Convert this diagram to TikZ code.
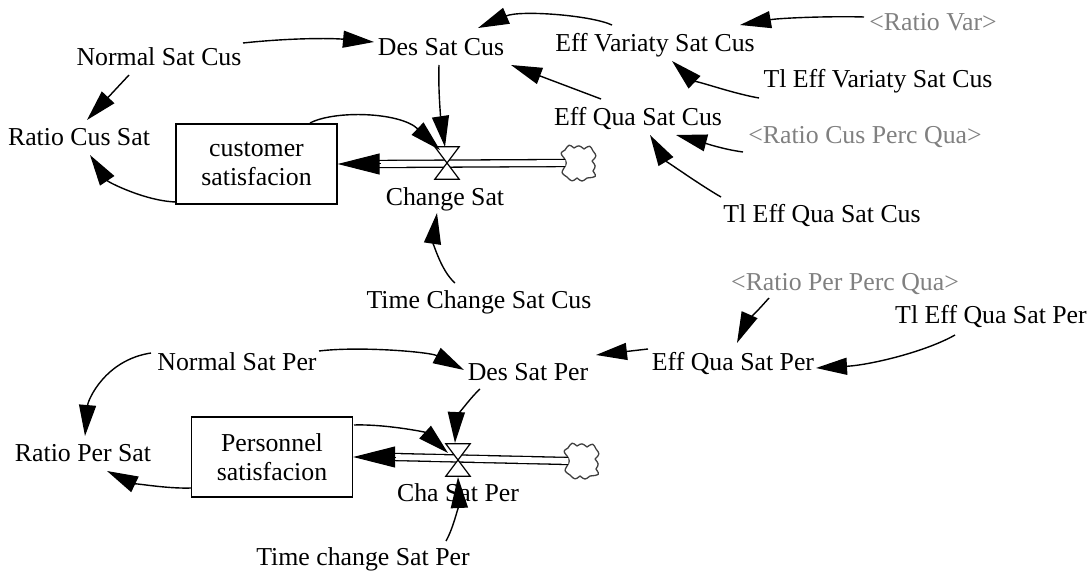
\documentclass[tikz,border=0pt]{standalone}
\usepackage{fontspec}
\setmainfont{Liberation Serif}
\usetikzlibrary{arrows.meta}
\definecolor{shadowgray}{RGB}{128,128,128}
\begin{document}
\begin{tikzpicture}[x=1pt,y=-1pt,
  lbl/.style={inner sep=0pt, text height=17pt, text depth=0pt, font=\fontsize{25.8pt}{28pt}\selectfont},
  shadowlbl/.style={lbl, text=shadowgray},
  stock/.style={draw, line width=1.4pt, minimum width=161pt, minimum height=80pt, inner sep=0pt, align=center, font=\fontsize{25.8pt}{28.5pt}\selectfont},
  conn/.style={line width=1.4pt, -{Triangle[length=31pt,width=17pt]}},
  pipe/.style={double distance=5.8pt, line width=1.3pt},
  flowhead/.style={line width=1pt, -{Triangle[length=42pt,width=21pt]}},
  valvept/.style={minimum width=24pt, minimum height=32pt, inner sep=0pt},
  valvetri/.style={draw, fill=white, line width=1.2pt, line join=miter},
  cloudsrc/.style={minimum width=27pt, minimum height=30pt, inner sep=0pt},
  cloudpic/.pic={
    \draw[draw=black!75, line width=1.3pt, fill=white, line join=round]
      (-15,-5) .. controls (-19,-10) .. (-14,-13)
      .. controls (-10,-19) .. (-5,-15)
      .. controls (0,-18) .. (5,-14)
      .. controls (11,-18) .. (14,-12)
      .. controls (18,-7) .. (13,-2)
      .. controls (17,3) .. (14,8)
      .. controls (18,14) .. (8,15)
      .. controls (3,19) .. (-2,15)
      .. controls (-7,19) .. (-12,14)
      .. controls (-18,10) .. (-15,5)
      .. controls (-12,0) .. (-15,-5) -- cycle;
  }]
\useasboundingbox (0,0) rectangle (1092,577);

% ---------- customer part ----------
\node[lbl] (nsc) at (159,57) {Normal Sat Cus};
\node[lbl] (dsc) at (441,47) {Des Sat Cus};
\node[lbl] (evs) at (655,43) {Eff Variaty Sat Cus};
\node[shadowlbl] (rv) at (933,22) {<Ratio Var>};
\node[lbl] (tev) at (878,79) {Tl Eff Variaty Sat Cus};
\node[lbl] (eqs) at (638,117) {Eff Qua Sat Cus};
\node[shadowlbl] (rcpq) at (865,135) {<Ratio Cus Perc Qua>};
\node[lbl] (teq) at (822,214) {Tl Eff Qua Sat Cus};
\node[lbl] (rcs) at (79,137) {Ratio Cus Sat};
\node[stock] (cs) at (256.5,164) {customer\\satisfacion};
\node[valvept] (v1) at (447,163) {};
\node[cloudsrc] (cl1) at (579,163) {};
\node[lbl] (chs) at (445,197) {Change Sat};
\node[lbl] (tcs) at (479,300) {Time Change Sat Cus};

% ---------- personnel part ----------
\node[shadowlbl] (rppq) at (845,282) {<Ratio Per Perc Qua>};
\node[lbl] (teqp) at (991,315) {Tl Eff Qua Sat Per};
\node[lbl] (eqp) at (733,362) {Eff Qua Sat Per};
\node[lbl] (dsp) at (528,372) {Des Sat Per};
\node[lbl] (nsp) at (237,362) {Normal Sat Per};
\node[lbl] (rps) at (83,453) {Ratio Per Sat};
\node[stock] (ps) at (272,457) {Personnel\\satisfacion};
\node[valvept] (v2) at (458,460) {};
\node[cloudsrc] (cl2) at (582,461) {};
\node[lbl] (csp) at (458,493) {Cha Sat Per};
\node[lbl] (tcp) at (363,557) {Time change Sat Per};

% ---------- clouds ----------
\pic at (cl1.center) {cloudpic};
\pic at (cl2.center) {cloudpic};

% ---------- flows ----------
\draw[pipe] (cl1.west) -- ([xshift=41pt]cs.east);
\draw[flowhead] ([xshift=43pt]cs.east) -- (cs.east);
\draw[valvetri] (v1.north west) -- (v1.north east) -- (v1.center) -- cycle;
\draw[valvetri] (v1.south west) -- (v1.south east) -- (v1.center) -- cycle;

\draw[pipe] (cl2.west) -- ([xshift=41pt]ps.east);
\draw[flowhead] ([xshift=43pt]ps.east) -- (ps.east);
\draw[valvetri] (v2.north west) -- (v2.north east) -- (v2.center) -- cycle;
\draw[valvetri] (v2.south west) -- (v2.south east) -- (v2.center) -- cycle;

% ---------- connectors, customer ----------
\draw[conn] ([shift={(84,-14)}]nsc.center) .. controls (290,38) and (330,38) .. ([shift={(-67,-5)}]dsc.center);
\draw[conn] ([shift={(-30,18)}]nsc.center) -- ([shift={(8,-17)}]rcs.center);
\draw[conn] ([shift={(-80.5,38)}]cs.center) .. controls (145,201) and (108,182) .. ([shift={(11,18)}]rcs.center);
\draw[conn] ([shift={(53.5,-41)}]cs.center) .. controls (335,110) and (400,112) .. ([shift={(-7,-13)}]v1.center);
\draw[conn] ([shift={(-2,18)}]dsc.center) .. controls (438,90) and (441,120) .. ([shift={(-2,-16)}]v1.center);
\draw[conn] ([shift={(-24,-17)}]tcs.center) .. controls (440,270) and (433,240) .. ([shift={(-8,16)}]chs.center);
\draw[conn] ([shift={(-43,-18)}]evs.center) .. controls (590,15) and (520,10) .. ([shift={(37,-19)}]dsc.center);
\draw[conn] ([shift={(-37,-18)}]eqs.center) -- ([shift={(70,18)}]dsc.center);
\draw[conn] ([shift={(-69,-5)}]rv.center) .. controls (830,16) and (780,18) .. ([shift={(85,-18)}]evs.center);
\draw[conn] ([shift={(-119,19)}]tev.center) .. controls (730,93) and (690,78) .. ([shift={(17,18)}]evs.center);
\draw[conn] ([shift={(-122,17)}]rcpq.center) .. controls (720,149) and (695,140) .. ([shift={(38,18)}]eqs.center);
\draw[conn] ([shift={(-101,-17)}]teq.center) .. controls (700,185) and (665,160) .. ([shift={(12,18)}]eqs.center);

% ---------- connectors, personnel ----------
\draw[conn] ([shift={(-76,16)}]rppq.center) .. controls (760,308) and (745,325) .. ([shift={(4,-19)}]eqp.center);
\draw[conn] ([shift={(-36,20)}]teqp.center) .. controls (925,352) and (870,365) .. ([shift={(83,6)}]eqp.center);
\draw[conn] ([shift={(-85,-13)}]eqp.center) -- ([shift={(68,-17)}]dsp.center);
\draw[conn] ([shift={(82,-11)}]nsp.center) .. controls (360,346) and (430,352) .. ([shift={(-64,-2)}]dsp.center);
\draw[conn] ([shift={(-86,-9)}]nsp.center) .. controls (105,360) and (88,400) .. ([shift={(2,-17)}]rps.center);
\draw[conn] ([shift={(-80.5,31)}]ps.center) .. controls (165,489) and (130,482) .. ([shift={(24,18)}]rps.center);
\draw[conn] ([shift={(82,-32)}]ps.center) .. controls (385,424) and (425,432) .. ([shift={(-10,-7)}]v2.center);
\draw[conn] ([shift={(-48,17)}]dsp.center) .. controls (466,402) and (456,420) .. ([shift={(-3,-17)}]v2.center);
\draw[conn] ([shift={(83,-16)}]tcp.center) .. controls (455,525) and (459,500) .. ([shift={(0,17)}]v2.center);
\end{tikzpicture}
\end{document}
